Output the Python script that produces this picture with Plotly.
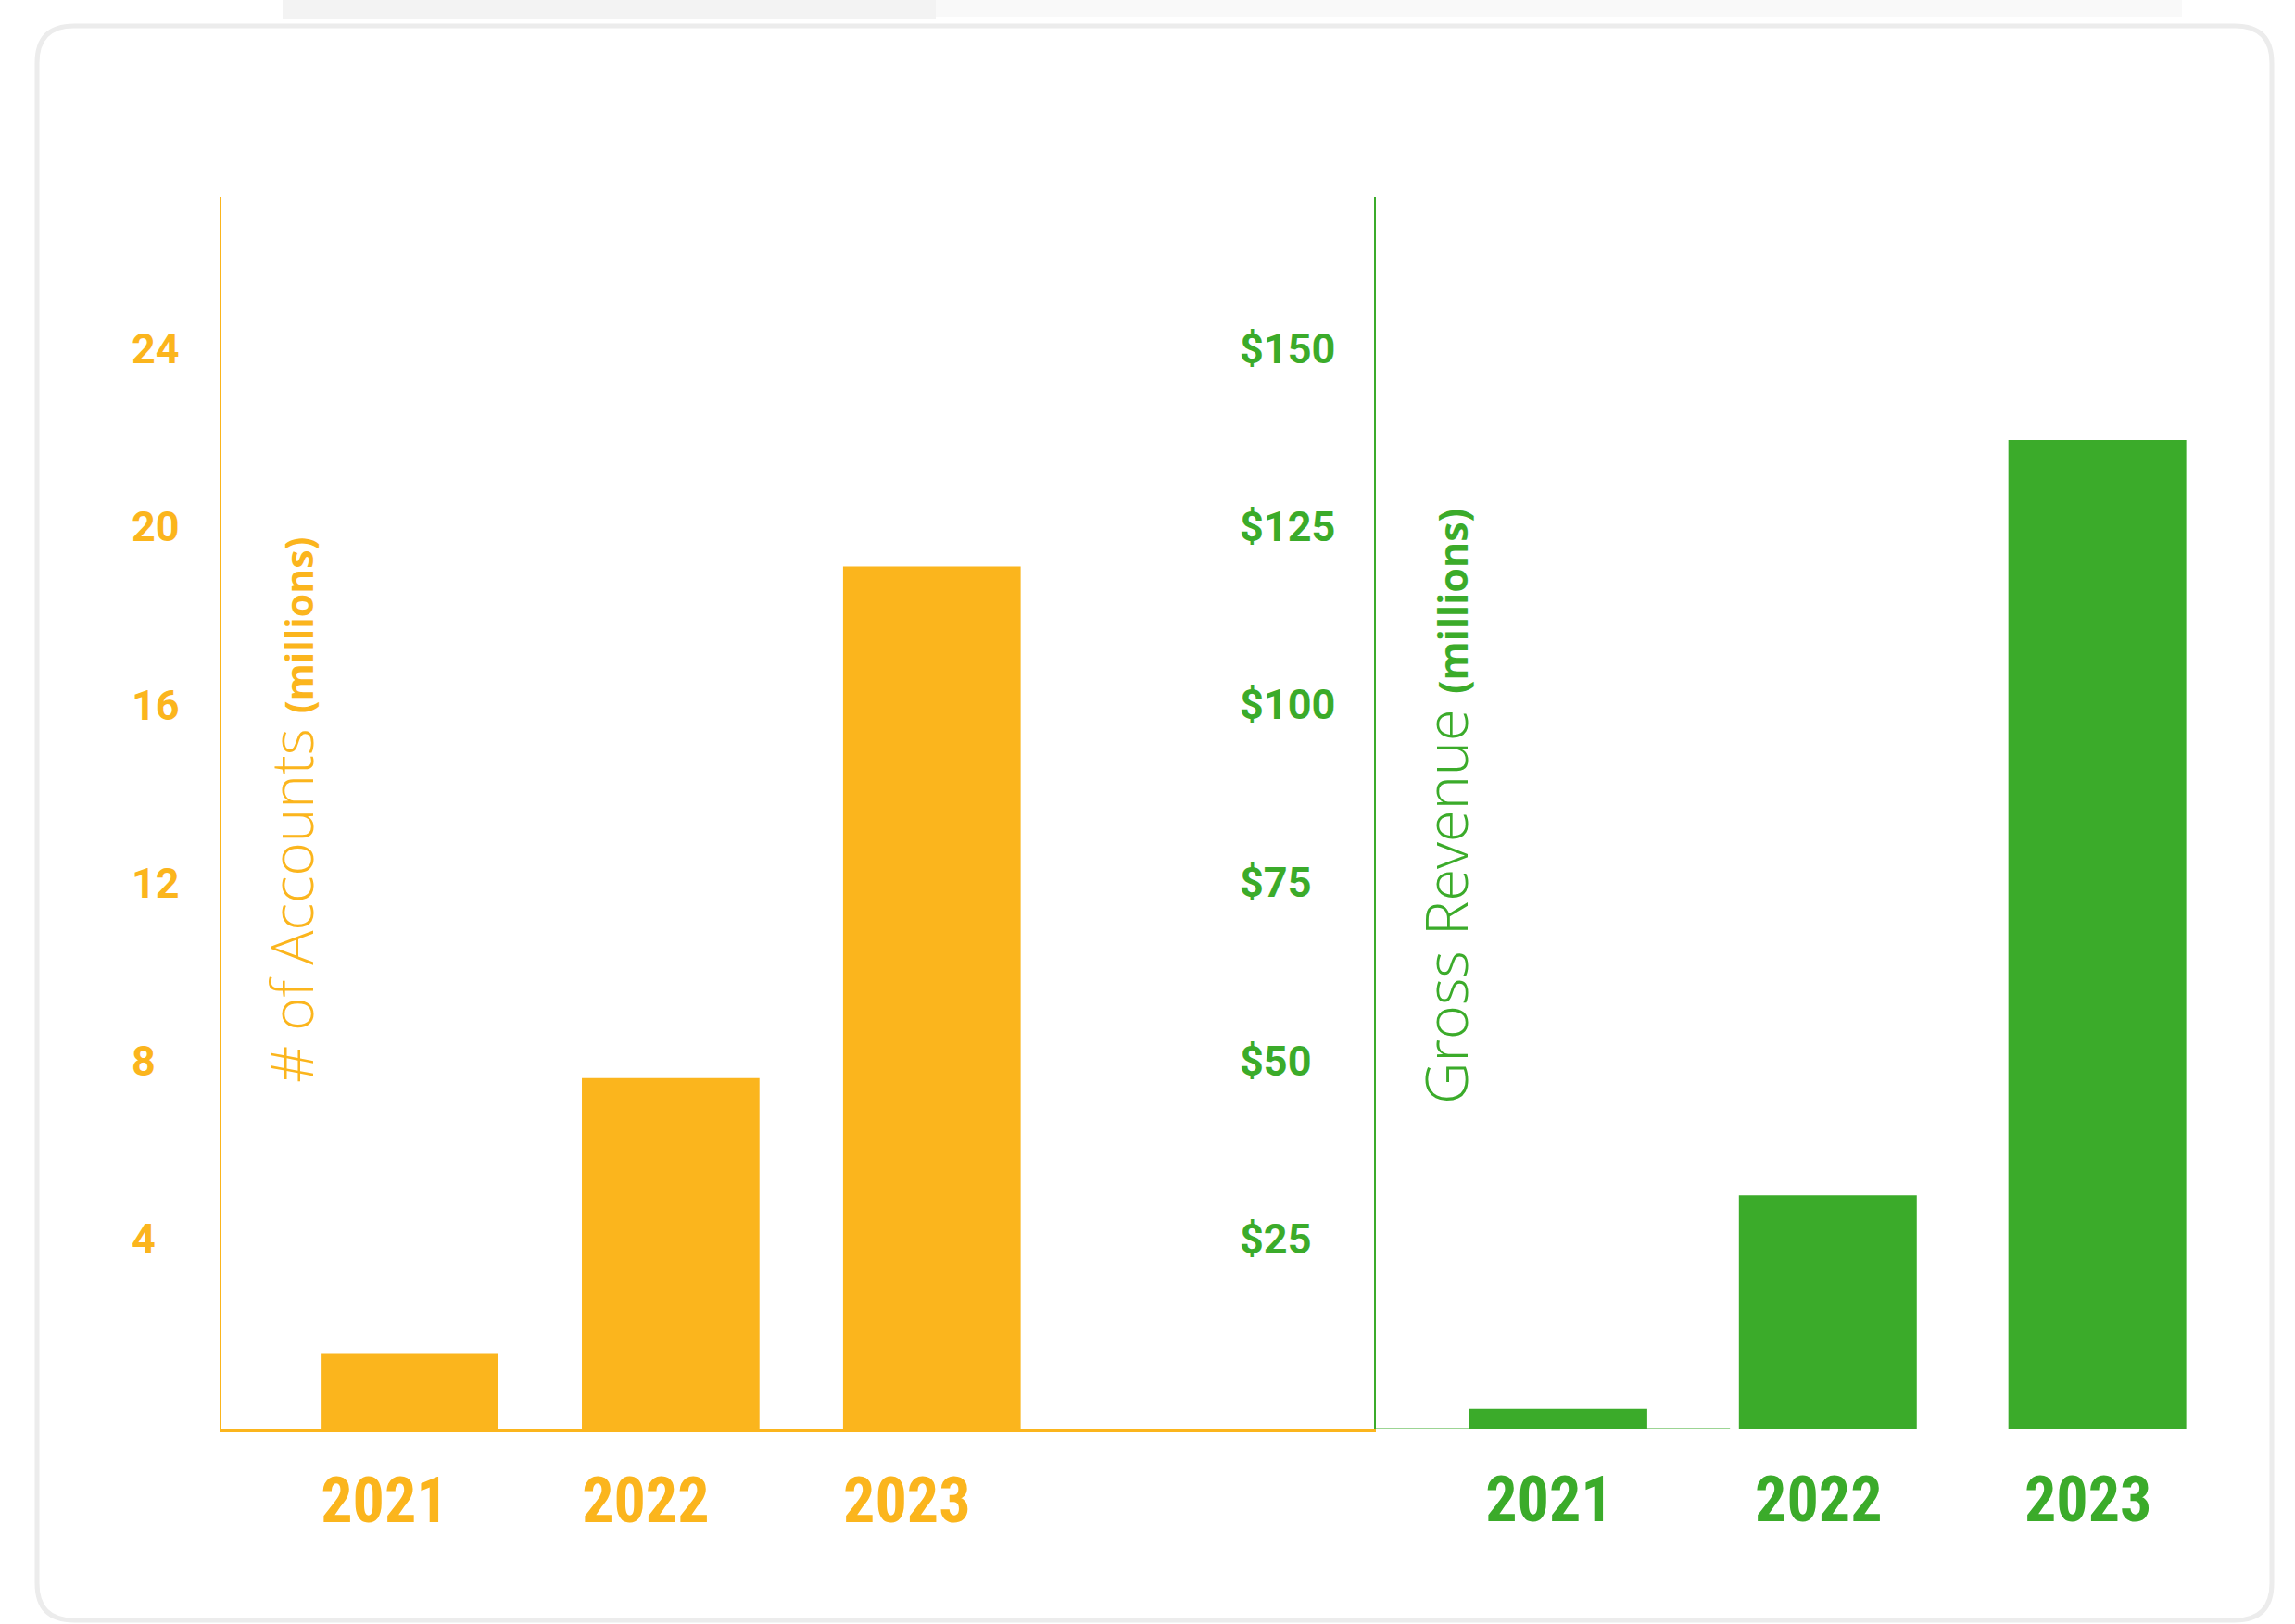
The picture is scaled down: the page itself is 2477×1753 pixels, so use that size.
import plotly.graph_objects as go

# ---------------- data ----------------
years = ["2021", "2022", "2023"]
accounts_millions = [1.7, 7.9, 19.4]
revenue_millions = [2.9, 32.9, 139.0]
acc_tickvals = [4, 8, 12, 16, 20, 24]
acc_ticktext = ["4", "8", "12", "16", "20", "24"]
rev_tickvals = [25, 50, 75, 100, 125, 150]
rev_ticktext = ["$25", "$50", "$75", "$100", "$125", "$150"]

# ---------------- style ----------------
W, H = 2477, 1753
ORANGE = "#FBB51D"
GREEN = "#3BAB2A"
TICKF = "Roboto, Liberation Sans, sans-serif"
LIGHT = "Open Sans, Lato, sans-serif"


def px(x):
    return x / W


def py(y):
    return 1 - y / H


TOP, BASE = 213, 1543
L_AX, R_AX, R_END = 239, 1485, 2380
ydom = [py(BASE), py(TOP)]

year_text = [f"<span style='font-stretch:75%'>{y}</span>" for y in years]

fig = go.Figure()
fig.add_trace(go.Bar(x=years, y=accounts_millions, xaxis="x", yaxis="y",
                     marker=dict(color=ORANGE, line_width=0), width=0.68,
                     showlegend=False, hoverinfo="x+y"))
fig.add_trace(go.Bar(x=years, y=revenue_millions, xaxis="x2", yaxis="y2",
                     marker=dict(color=GREEN, line_width=0), width=0.66,
                     showlegend=False, hoverinfo="x+y"))
# invisible traces to carry the tick-label axes
fig.add_trace(go.Scatter(x=[None], y=[None], xaxis="x", yaxis="y3",
                         showlegend=False, hoverinfo="skip"))
fig.add_trace(go.Scatter(x=[None], y=[None], xaxis="x2", yaxis="y4",
                         showlegend=False, hoverinfo="skip"))

common_x = dict(type="category", showgrid=False, zeroline=False, ticks="",
                automargin=False, fixedrange=True, tickvals=years, ticktext=year_text)

fig.update_layout(
    width=W, height=H, autosize=False,
    margin=dict(l=0, r=0, t=0, b=0, pad=0),
    paper_bgcolor="#FFFFFF", plot_bgcolor="rgba(0,0,0,0)",
    showlegend=False,
    xaxis=dict(common_x, domain=[px(L_AX), px(R_AX)], range=[-0.72, 3.70], anchor="y",
               showline=True, linecolor=ORANGE, linewidth=3,
               tickfont=dict(family="Roboto", size=68, color=ORANGE, weight="bold"),
               ticklabelstandoff=15, ticklabelshift=-27),
    xaxis2=dict(common_x, domain=[px(R_AX), px(R_END)], range=[-0.677, 2.40], anchor="y2",
                showline=False,
                tickfont=dict(family="Roboto", size=68, color=GREEN, weight="bold"),
                ticklabelstandoff=30, ticklabelshift=-10),
    yaxis=dict(domain=ydom, range=[0, 27.7], anchor="x", showline=True, linecolor=ORANGE,
               linewidth=2, showticklabels=False, showgrid=False, zeroline=False,
               ticks="", automargin=False, fixedrange=True),
    yaxis2=dict(domain=ydom, range=[0, 173.1], anchor="x2", showline=True, linecolor=GREEN,
                linewidth=2, showticklabels=False, showgrid=False, zeroline=False,
                ticks="", automargin=False, fixedrange=True),
    yaxis3=dict(overlaying="y", range=[0, 27.7], side="right", anchor="free",
                position=px(141), showline=False, showgrid=False, zeroline=False,
                ticks="", tickvals=acc_tickvals, ticktext=acc_ticktext,
                tickfont=dict(family=TICKF, size=45, color=ORANGE, weight="bold"),
                ticklabelshift=-14, automargin=False, fixedrange=True),
    yaxis4=dict(overlaying="y2", range=[0, 173.1], side="right", anchor="free",
                position=px(1337), showline=False, showgrid=False, zeroline=False,
                ticks="", tickvals=rev_tickvals, ticktext=rev_ticktext,
                tickfont=dict(family=TICKF, size=45, color=GREEN, weight="bold"),
                ticklabelshift=-14, automargin=False, fixedrange=True),
)

# rounded card
x0, x1, y0, y1, r = 40, 2452, 28, 1749, 40
path = (f"M {px(x0 + r)},{py(y0)} L {px(x1 - r)},{py(y0)} Q {px(x1)},{py(y0)} {px(x1)},{py(y0 + r)} "
        f"L {px(x1)},{py(y1 - r)} Q {px(x1)},{py(y1)} {px(x1 - r)},{py(y1)} "
        f"L {px(x0 + r)},{py(y1)} Q {px(x0)},{py(y1)} {px(x0)},{py(y1 - r)} "
        f"L {px(x0)},{py(y0 + r)} Q {px(x0)},{py(y0)} {px(x0 + r)},{py(y0)} Z")
fig.add_shape(type="rect", xref="paper", yref="paper", x0=px(305), x1=px(1010),
              y0=py(0), y1=py(20), fillcolor="#F3F3F3", line_width=0, layer="below")
fig.add_shape(type="rect", xref="paper", yref="paper", x0=px(1010), x1=px(2355),
              y0=py(0), y1=py(18), fillcolor="#F9F9F9", line_width=0, layer="below")
fig.add_shape(type="path", path=path, xref="paper", yref="paper",
              fillcolor="#FFFFFF", line=dict(color="#ECECEC", width=5), layer="below")

# partial green baseline
fig.add_shape(type="line", xref="x2 domain", yref="y2", x0=0, x1=0.427, y0=0, y1=0,
              line=dict(color=GREEN, width=3))

# axis titles (inside plots)
fig.add_annotation(text="# of Accounts <b><span style='font-size:41px'>(millions)</span></b>",
                   xref="paper", yref="paper", x=px(314), y=py(875),
                   xanchor="center", yanchor="middle", textangle=-90, showarrow=False,
                   font=dict(family=LIGHT, size=62, color=ORANGE, weight=300))
fig.add_annotation(text="Gross Revenue <b><span style='font-size:43px'>(millions)</span></b>",
                   xref="paper", yref="paper", x=px(1559), y=py(871),
                   xanchor="center", yanchor="middle", textangle=-90, showarrow=False,
                   font=dict(family=LIGHT, size=63, color=GREEN, weight=300))

fig.write_html("out.html", config={"displayModeBar": False},
               post_script="document.body.style.margin='0';document.body.style.overflow='hidden';")
